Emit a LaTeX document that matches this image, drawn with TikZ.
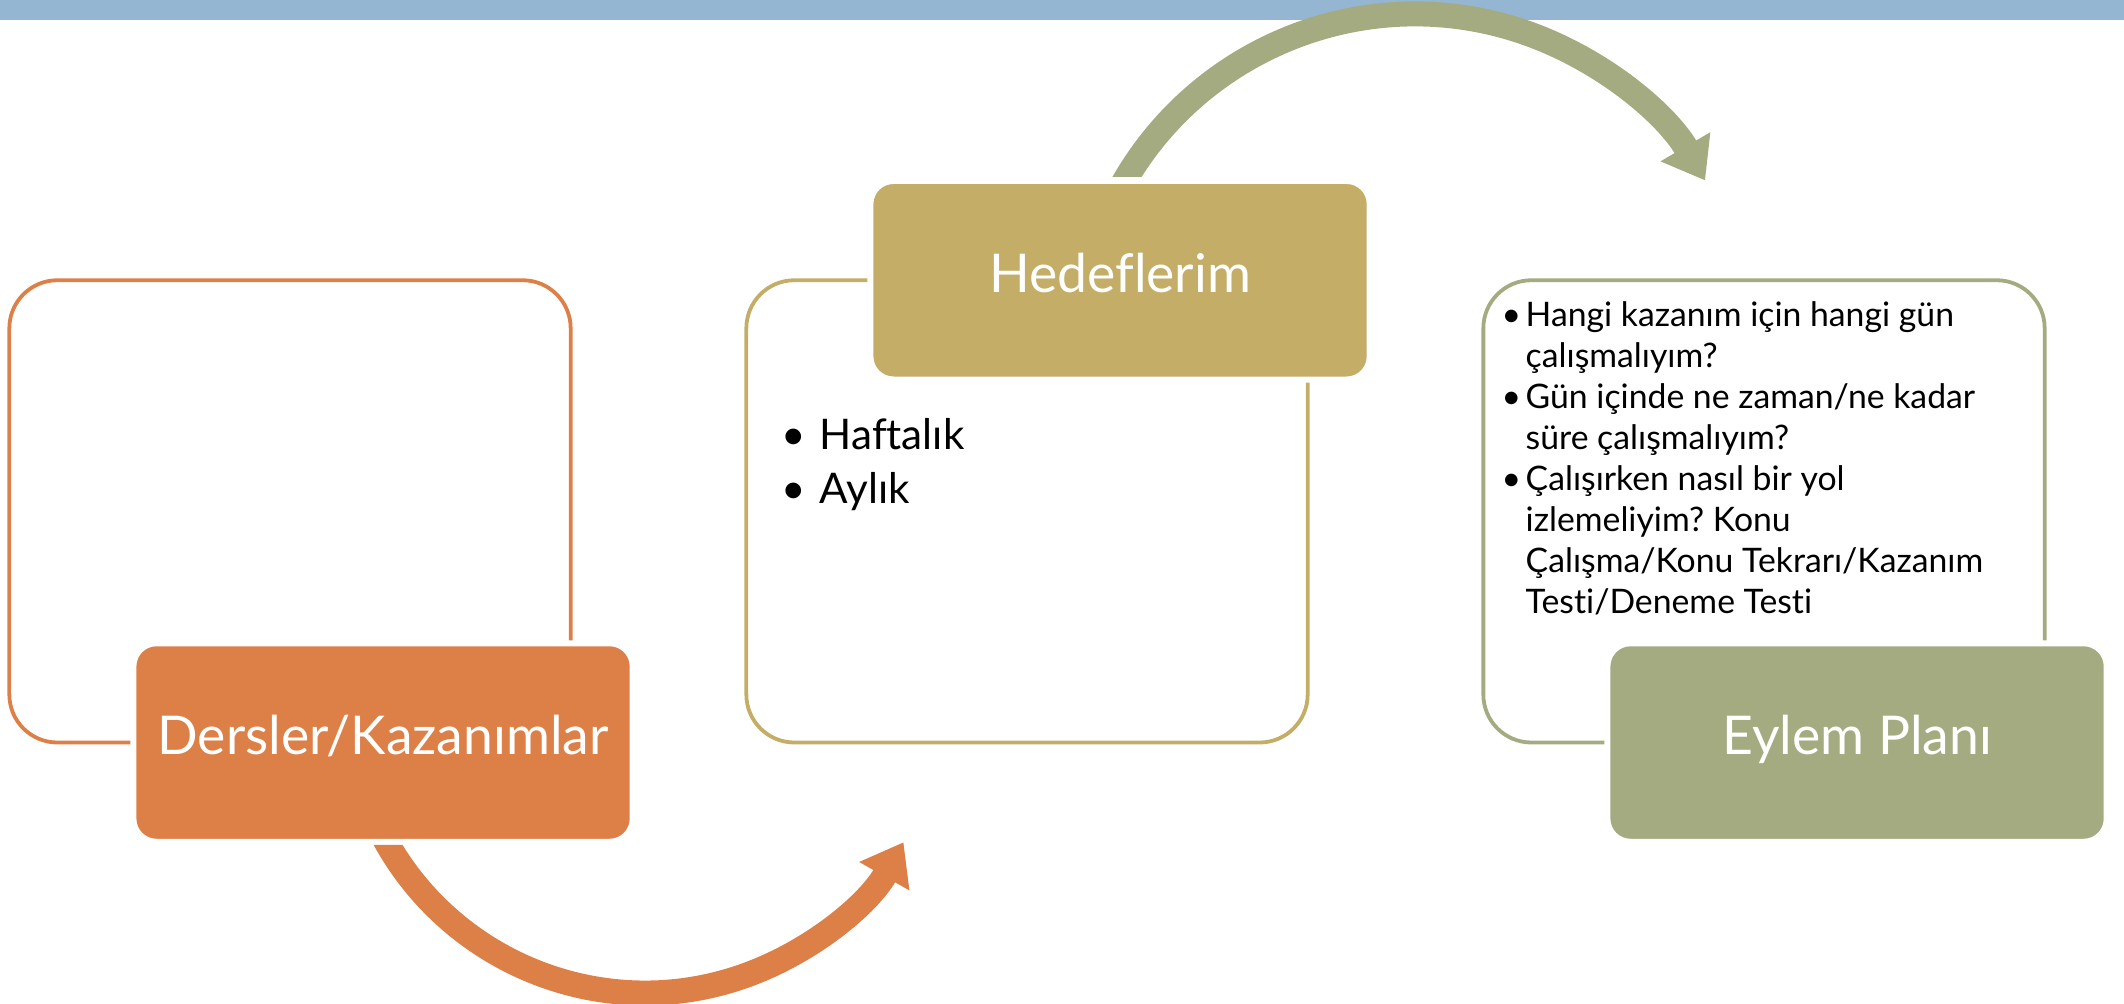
\documentclass[tikz,border=0pt]{standalone}
\usepackage{fontspec}
\setmainfont{Lato}[Ligatures=NoCommon]
\frenchspacing
\usetikzlibrary{arrows.meta,positioning,calc}

\definecolor{barblue}{HTML}{94B6D2}
\definecolor{dersorange}{HTML}{DD8047}
\definecolor{hedefgold}{HTML}{C4AD66}
\definecolor{eylemgreen}{HTML}{A5AB81}

\newcommand{\bulletbox}[1]{\makebox[#1][l]{\textbullet}}
\newcommand{\bullethang}[1]{\hspace*{#1}}

\begin{document}
\begin{tikzpicture}[x=0.01cm, y=0.01cm,
frame box/.style={rectangle, rounded corners=0.48cm, line width=0.038cm, minimum width=5.61cm, minimum height=4.62cm, inner sep=0pt, outer sep=0pt},
title box/.style={rectangle, rounded corners=0.23cm, draw=white, line width=0.06cm, minimum width=4.99cm, minimum height=1.984cm, inner sep=0pt, text=white, text height=0.72em, text depth=0.05em, font=\fontsize{15.2pt}{18pt}\selectfont},
list text/.style={inner sep=0pt, anchor=base west},
flow arrow/.style={line width=0.25cm, -{Triangle[length=0.39cm, width=0.55cm]}}]
\useasboundingbox (0,0) rectangle (2124,1004);
\fill[barblue] (0,984) rectangle (2124,1004);
% frames
\node[frame box, draw=dersorange] (dersframe) at (290,492.6) {};
\node[frame box, draw=hedefgold] (hedefframe) at (1027,492.6) {};
\node[frame box, draw=eylemgreen] (eylemframe) at (1764,492.6) {};
% titles
\node[title box, fill=dersorange] (ders) at ([xshift=0.93cm]dersframe.south) {Dersler/Kazanımlar};
\node[title box, fill=hedefgold] (hedef) at ([xshift=0.93cm]hedefframe.north) {Hedeflerim};
\node[title box, fill=eylemgreen] (eylem) at ([xshift=0.93cm]eylemframe.south) {Eylem Planı};
% lists
\node[list text, font=\fontsize{12pt}{15.08pt}\selectfont] (hedeflist) at (781,554) {\begin{tabular}[t]{@{}l@{}}
\bulletbox{0.38cm}Haftalık\\
\bulletbox{0.38cm}Aylık
\end{tabular}};
\node[list text, font=\fontsize{9.6pt}{11.66pt}\selectfont] (eylemlist) at (1501,677.5) {\begin{tabular}[t]{@{}l@{}}
\bulletbox{0.24cm}Hangi kazanım için hangi gün\\
\bullethang{0.24cm}çalışmalıyım?\\
\bulletbox{0.24cm}Gün içinde ne zaman/ne kadar\\
\bullethang{0.24cm}süre çalışmalıyım?\\
\bulletbox{0.24cm}Çalışırken nasıl bir yol\\
\bullethang{0.24cm}izlemeliyim? Konu\\
\bullethang{0.24cm}Çalışma/Konu Tekrarı/Kazanım\\
\bullethang{0.24cm}Testi/Deneme Testi
\end{tabular}};
% arrows
\coordinate (derscenter) at (645,308);
\coordinate (hedefcenter) at (1415,654);
\begin{scope}
\clip (0,0) -- (2124,0) -- (2124,1004) -- (500,1004) -- (500,159) -- (0,159) -- cycle;
\draw[flow arrow, dersorange] ([shift={(200:297)}]derscenter) arc[start angle=200, end angle=330.5, radius=297];
\end{scope}
\begin{scope}
\clip (0,1004) -- (2124,1004) -- (2124,0) -- (1300,0) -- (1300,827) -- (0,827) -- cycle;
\draw[flow arrow, eylemgreen] ([shift={(159:336)}]hedefcenter) arc[start angle=159, end angle=30.3, radius=336];
\end{scope}
\end{tikzpicture}
\end{document}
